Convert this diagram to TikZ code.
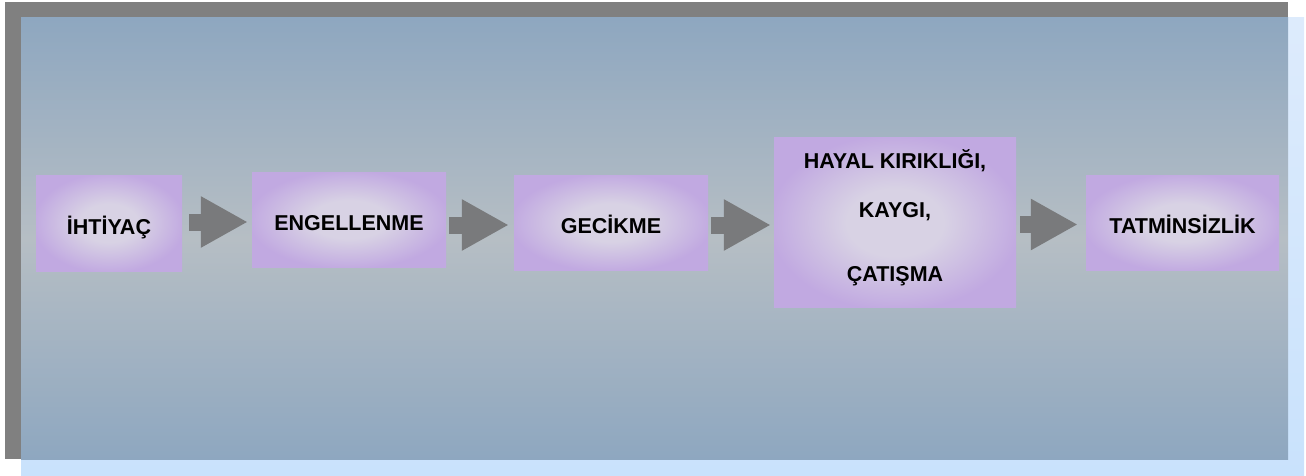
\documentclass[tikz,border=0pt]{standalone}
\usepackage{fontspec}
\setmainfont{Liberation Sans}
\usetikzlibrary{arrows.meta}

\definecolor{framegray}{HTML}{808080}
\definecolor{paneledge}{HTML}{8EA7C0}
\definecolor{panelmid}{HTML}{B6BEC4}
\definecolor{paleblueA}{HTML}{DDEBFC}
\definecolor{paleblueB}{HTML}{C9E2FC}
\definecolor{boxouter}{HTML}{C1A9E1}
\definecolor{boxinner}{HTML}{D8D2E4}
\definecolor{arrowgray}{HTML}{797A7C}

\pgfdeclareradialshading{boxglow}{\pgfpoint{0bp}{0bp}}{%
  color(0bp)=(boxinner); color(10bp)=(boxinner); color(26bp)=(boxouter); color(50bp)=(boxouter)}

\tikzset{
  stagebox/.style={shading=boxglow, inner sep=0pt, text height=22.4pt, text depth=0pt,
    font=\fontsize{21.5}{24}\selectfont\bfseries, text=black},
  stagetext/.style={font=\fontsize{21.5}{24}\selectfont\bfseries, text=black,
    inner sep=0pt, anchor=base},
  flowarrow/.style={draw=arrowgray, line width=17pt,
    -{Triangle[length=47pt, width=48pt, fill=arrowgray]}}
}

\begin{document}
\begin{tikzpicture}[x=1pt, y=-1pt]
\useasboundingbox (0,0) rectangle (1306,476);

% pale blue backdrop, dark frame and shaded panel
\shade[top color=paleblueA, bottom color=paleblueB] (21,18) rectangle (1304,476);
\fill[framegray] (5,2) rectangle (1288,459);
\shade[top color=paneledge, bottom color=paneledge, middle color=panelmid] (21,18) rectangle (1288,459);

% stages
\node[stagebox, minimum width=146pt, minimum height=96pt] (need) at (109,223) {İHTİYAÇ};
\node[stagebox, minimum width=194pt, minimum height=95pt] (block) at (349,219.5) {ENGELLENME};
\node[stagebox, minimum width=194pt, minimum height=95pt] (delay) at (611,222.5) {GECİKME};
\node[stagebox, minimum width=242pt, minimum height=169pt] (tension) at (895,222.5) {};
\node[stagebox, minimum width=193pt, minimum height=95pt] (discontent) at (1182.5,222.5) {TATMİNSİZLİK};

\node[stagetext] (t1) at (895,168) {HAYAL KIRIKLIĞI,};
\node[stagetext] (t2) at (895,217) {KAYGI,};
\node[stagetext] (t3) at (895,281) {ÇATIŞMA};

% arrows between stages
\draw[flowarrow, shorten <=7pt, shorten >=4pt]
  ([yshift=1pt]need.east) -- ([yshift=1pt]need.east -| block.west);
\draw[flowarrow, shorten <=3pt, shorten >=5pt]
  ([yshift=-5.5pt]block.east) -- ([yshift=-5.5pt]block.east -| delay.west);
\draw[flowarrow, shorten <=3pt, shorten >=3pt]
  ([yshift=-2.5pt]delay.east) -- ([yshift=-2.5pt]delay.east -| tension.west);
\draw[flowarrow, shorten <=4pt, shorten >=8pt]
  ([yshift=-2pt]tension.east) -- ([yshift=-2pt]tension.east -| discontent.west);
\end{tikzpicture}
\end{document}
